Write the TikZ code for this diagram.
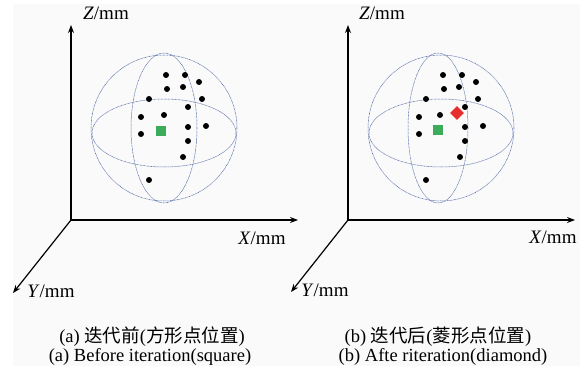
\documentclass[tikz,border=0pt]{standalone}
\usepackage{fontspec}
\usetikzlibrary{arrows.meta,shapes.geometric}
\setmainfont{Liberation Serif}
\newfontfamily\cjk{Noto Sans CJK SC}
\definecolor{sph}{RGB}{70,95,160}
\definecolor{sq}{RGB}{60,172,90}
\definecolor{dm}{RGB}{232,45,45}
\definecolor{bg}{RGB}{250,250,250}
\begin{document}
\begin{tikzpicture}[x=1pt,y=-1pt,
  axis/.style={line width=1.2pt,-{Stealth[length=8pt,width=6pt]}},
  sphline/.style={draw=sph,line width=0.5pt,dash pattern=on 0.8pt off 0.6pt},
  dot/.style={circle,fill=black,inner sep=0pt,minimum size=6pt},
  sqr/.style={fill=sq,inner sep=0pt,minimum size=10pt},
  dia/.style={diamond,fill=dm,inner sep=0pt,minimum size=14pt},
  lab/.style={font=\fontsize{19}{21}\selectfont,inner sep=0pt},
  captxt/.style={font=\fontsize{18.5}{20}\selectfont,inner sep=0pt}]
\useasboundingbox (0,0) rectangle (585,369);
\fill[bg] (13,4) rectangle (580,366);
% ---------- left panel
\coordinate (oa) at (71,220);
\coordinate (za) at (71,25);
\coordinate (xa) at (298,220);
\coordinate (ya) at (13,293);
\draw[axis] (oa) -- (za);
\draw[axis] (oa) -- (xa);
\draw[axis] (oa) -- (ya);
\node[lab] (zla) at (106,13) {\textit{Z}/mm};
\node[lab] (xla) at (262,238) {\textit{X}/mm};
\node[lab] (yla) at (51,291) {\textit{Y}/mm};
\coordinate (ca) at (164,128);
\draw[sphline] (ca) circle[radius=73];
\draw[sphline] (164,133) ellipse[x radius=72,y radius=34];
\draw[sphline] (ca) ellipse[x radius=33,y radius=75];
\foreach \p [count=\i] in {(166,75),(185,75),(199,82),(167,89),(183,87),(149,99),(202,99),(188,107),(141,117),(164,115),(206,126),(188,127),(141,134),(188,141),(183,157),(149,180)}
  \node[dot] (da\i) at \p {};
\node[sqr] (sqa) at (161,131) {};
\node[captxt] (ca1) at (152,337) {(a) {\cjk 迭代前}({\cjk 方形点位置})};
\node[captxt] (ca2) at (150,357) {(a) Before iteration(square)};
% ---------- right panel
\coordinate (ob) at (348,220);
\coordinate (zb) at (348,25);
\coordinate (xb) at (575,220);
\coordinate (yb) at (291,292);
\draw[axis] (ob) -- (zb);
\draw[axis] (ob) -- (xb);
\draw[axis] (ob) -- (yb);
\node[lab] (zlb) at (382,13) {\textit{Z}/mm};
\node[lab] (xlb) at (553,237) {\textit{X}/mm};
\node[lab] (ylb) at (325,290) {\textit{Y}/mm};
\coordinate (cb) at (441,128);
\draw[sphline] (cb) circle[radius=73];
\draw[sphline] (441,133) ellipse[x radius=72,y radius=34];
\draw[sphline] (438,128) ellipse[x radius=30,y radius=75];
\foreach \p [count=\i] in {(443,75),(462,75),(476,82),(444,89),(459,87),(426,99),(478,99),(465,107),(419,117),(440,115),(483,126),(465,127),(419,134),(465,141),(460,157),(426,180)}
  \node[dot] (db\i) at \p {};
\node[sqr] (sqb) at (438,130) {};
\node[dia] (dmb) at (457,113) {};
\node[captxt] (cb1) at (438,337) {(b) {\cjk 迭代后}({\cjk 菱形点位置})};
\node[captxt] (cb2) at (443,357) {(b) Afte riteration(diamond)};
\end{tikzpicture}
\end{document}
